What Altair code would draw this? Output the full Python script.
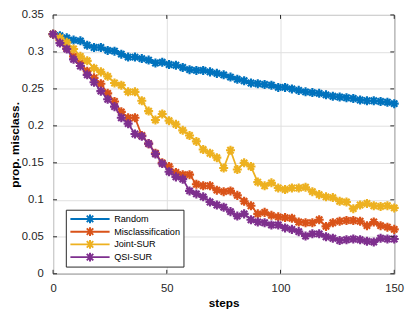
import altair as alt
import pandas as pd

steps = list(range(0, 151, 3))

random_vals = [0.324, 0.322, 0.319, 0.316, 0.315, 0.309, 0.306, 0.306, 0.302, 0.301,
               0.297, 0.293, 0.293, 0.291, 0.289, 0.285, 0.286, 0.283, 0.282, 0.279,
               0.276, 0.275, 0.275, 0.273, 0.271, 0.269, 0.266, 0.263, 0.261, 0.258,
               0.257, 0.256, 0.255, 0.252, 0.252, 0.250, 0.248, 0.246, 0.245, 0.244,
               0.242, 0.240, 0.239, 0.238, 0.237, 0.235, 0.234, 0.234, 0.233, 0.232,
               0.230]

misclass_vals = [0.324, 0.316, 0.305, 0.294, 0.285, 0.274, 0.265, 0.257, 0.244, 0.233,
                 0.219, 0.211, 0.211, 0.187, 0.176, 0.163, 0.150, 0.145, 0.137, 0.134,
                 0.134, 0.121, 0.119, 0.119, 0.113, 0.111, 0.112, 0.106, 0.098, 0.092,
                 0.081, 0.083, 0.079, 0.077, 0.076, 0.075, 0.070, 0.069, 0.069, 0.073,
                 0.064, 0.069, 0.071, 0.072, 0.072, 0.071, 0.065, 0.070, 0.065, 0.063,
                 0.060]

joint_vals = [0.324, 0.319, 0.313, 0.304, 0.294, 0.288, 0.278, 0.273, 0.267, 0.258,
              0.255, 0.246, 0.246, 0.234, 0.220, 0.208, 0.216, 0.207, 0.202, 0.194,
              0.187, 0.179, 0.168, 0.163, 0.157, 0.143, 0.167, 0.141, 0.150, 0.145,
              0.124, 0.119, 0.123, 0.116, 0.114, 0.116, 0.116, 0.117, 0.111, 0.107,
              0.104, 0.103, 0.098, 0.097, 0.088, 0.093, 0.095, 0.092, 0.091, 0.092,
              0.089]

qsi_vals = [0.324, 0.312, 0.304, 0.290, 0.281, 0.269, 0.259, 0.247, 0.236, 0.226,
            0.211, 0.203, 0.189, 0.186, 0.176, 0.162, 0.149, 0.138, 0.131, 0.128,
            0.112, 0.108, 0.104, 0.097, 0.093, 0.090, 0.084, 0.078, 0.081, 0.073,
            0.070, 0.069, 0.066, 0.066, 0.062, 0.060, 0.057, 0.051, 0.054, 0.054,
            0.050, 0.048, 0.045, 0.046, 0.047, 0.046, 0.044, 0.043, 0.048, 0.047,
            0.047]

series_names = ["Random", "Misclassification", "Joint-SUR", "QSI-SUR"]
series_colors = ["#0072BD", "#D95319", "#EDB120", "#7E2F8E"]
series_values = [random_vals, misclass_vals, joint_vals, qsi_vals]

x_ticks = [0, 50, 100, 150]
y_ticks = [0, 0.05, 0.1, 0.15, 0.2, 0.25, 0.3, 0.35]

rows = []
for name, vals in zip(series_names, series_values):
    for s, v in zip(steps, vals):
        rows.append({"series": name, "step": s, "value": v})
df = pd.DataFrame(rows)

FONT = "Liberation Sans"
W, H = 348, 264
XMAX, YMAX = 150, 0.35
TICK_PX = 4

xscale = alt.Scale(domain=[0, XMAX], nice=False, zero=False)
yscale = alt.Scale(domain=[0, YMAX], nice=False, zero=False)
cscale = alt.Scale(domain=series_names, range=series_colors)

x_axis = alt.Axis(values=x_ticks, title="steps", format="d")
y_axis = alt.Axis(values=y_ticks, title="prop. misclass.", format="~g")

star = "M-1,0L1,0M0,-1L0,1M-0.7,-0.7L0.7,0.7M-0.7,0.7L0.7,-0.7"
# legend glyph: a 40px line (scale 3 px/unit) starting at the entry's left edge,
# with an asterisk in its middle
legend_symbol = ("M-1,0L12.33,0M4.17,0L7.17,0M5.67,-1.5L5.67,1.5"
                 "M4.57,-1.1L6.77,1.1M4.57,1.1L6.77,-1.1")

x_enc = alt.X("step:Q", scale=xscale, axis=x_axis)
y_enc = alt.Y("value:Q", scale=yscale, axis=y_axis)
color_enc = alt.Color("series:N", scale=cscale,
                      legend=alt.Legend(title=None, orient="none",
                                        legendX=13, legendY=198.7,
                                        symbolType=legend_symbol, symbolSize=36,
                                        symbolStrokeWidth=2, labelOffset=37,
                                        labelFont=FONT, labelFontSize=9.3,
                                        labelColor="#000000",
                                        fillColor="white", strokeColor="#262626",
                                        clipHeight=12.7,
                                        padding=3, rowPadding=0, cornerRadius=0))

base = alt.Chart(df)
layers = []
for name in series_names:
    sub = base.transform_filter(alt.datum.series == name)
    layers.append(sub.mark_line(strokeWidth=1.8).encode(x=x_enc, y=y_enc, color=color_enc))
    layers.append(sub.mark_point(shape=star, size=85, strokeWidth=2.2, filled=False, opacity=1)
                  .encode(x=x_enc, y=y_enc, color=color_enc))

# inward tick marks (MATLAB style box ticks)
dx = TICK_PX * XMAX / W
dy = TICK_PX * YMAX / H
tick_rows = []
for v in y_ticks:
    tick_rows.append({"x": 0, "x2": dx, "y": v, "y2": v})
    tick_rows.append({"x": XMAX - dx, "x2": XMAX, "y": v, "y2": v})
for t in x_ticks:
    tick_rows.append({"x": t, "x2": t, "y": 0, "y2": dy})
    tick_rows.append({"x": t, "x2": t, "y": YMAX - dy, "y2": YMAX})
ticks = alt.Chart(pd.DataFrame(tick_rows)).mark_rule(color="#262626", strokeWidth=1).encode(
    x=alt.X("x:Q", scale=xscale, axis=x_axis), x2="x2:Q",
    y=alt.Y("y:Q", scale=yscale, axis=y_axis), y2="y2:Q")

chart = alt.layer(*layers, ticks).properties(
    width=W, height=H,
    autosize=alt.AutoSizeParams(type="none"),
    padding={"left": 46, "top": 4, "right": 12, "bottom": 40},
).configure_view(
    stroke="#262626", strokeWidth=1
).configure_axis(
    domain=False, ticks=False, grid=True, gridColor="#dfdfdf", gridWidth=1,
    labelOverlap=False, labelFlush=False,
    labelFont=FONT, labelFontSize=11.5, labelColor="#262626",
    titleFont=FONT, titleFontSize=12, titleFontWeight="bold", titleColor="#000000",
).configure_axisX(
    labelPadding=9, titlePadding=4
).configure_axisY(
    labelPadding=10, titlePadding=0
)

chart.save("out.html", embed_options={"renderer": "svg", "actions": False})
